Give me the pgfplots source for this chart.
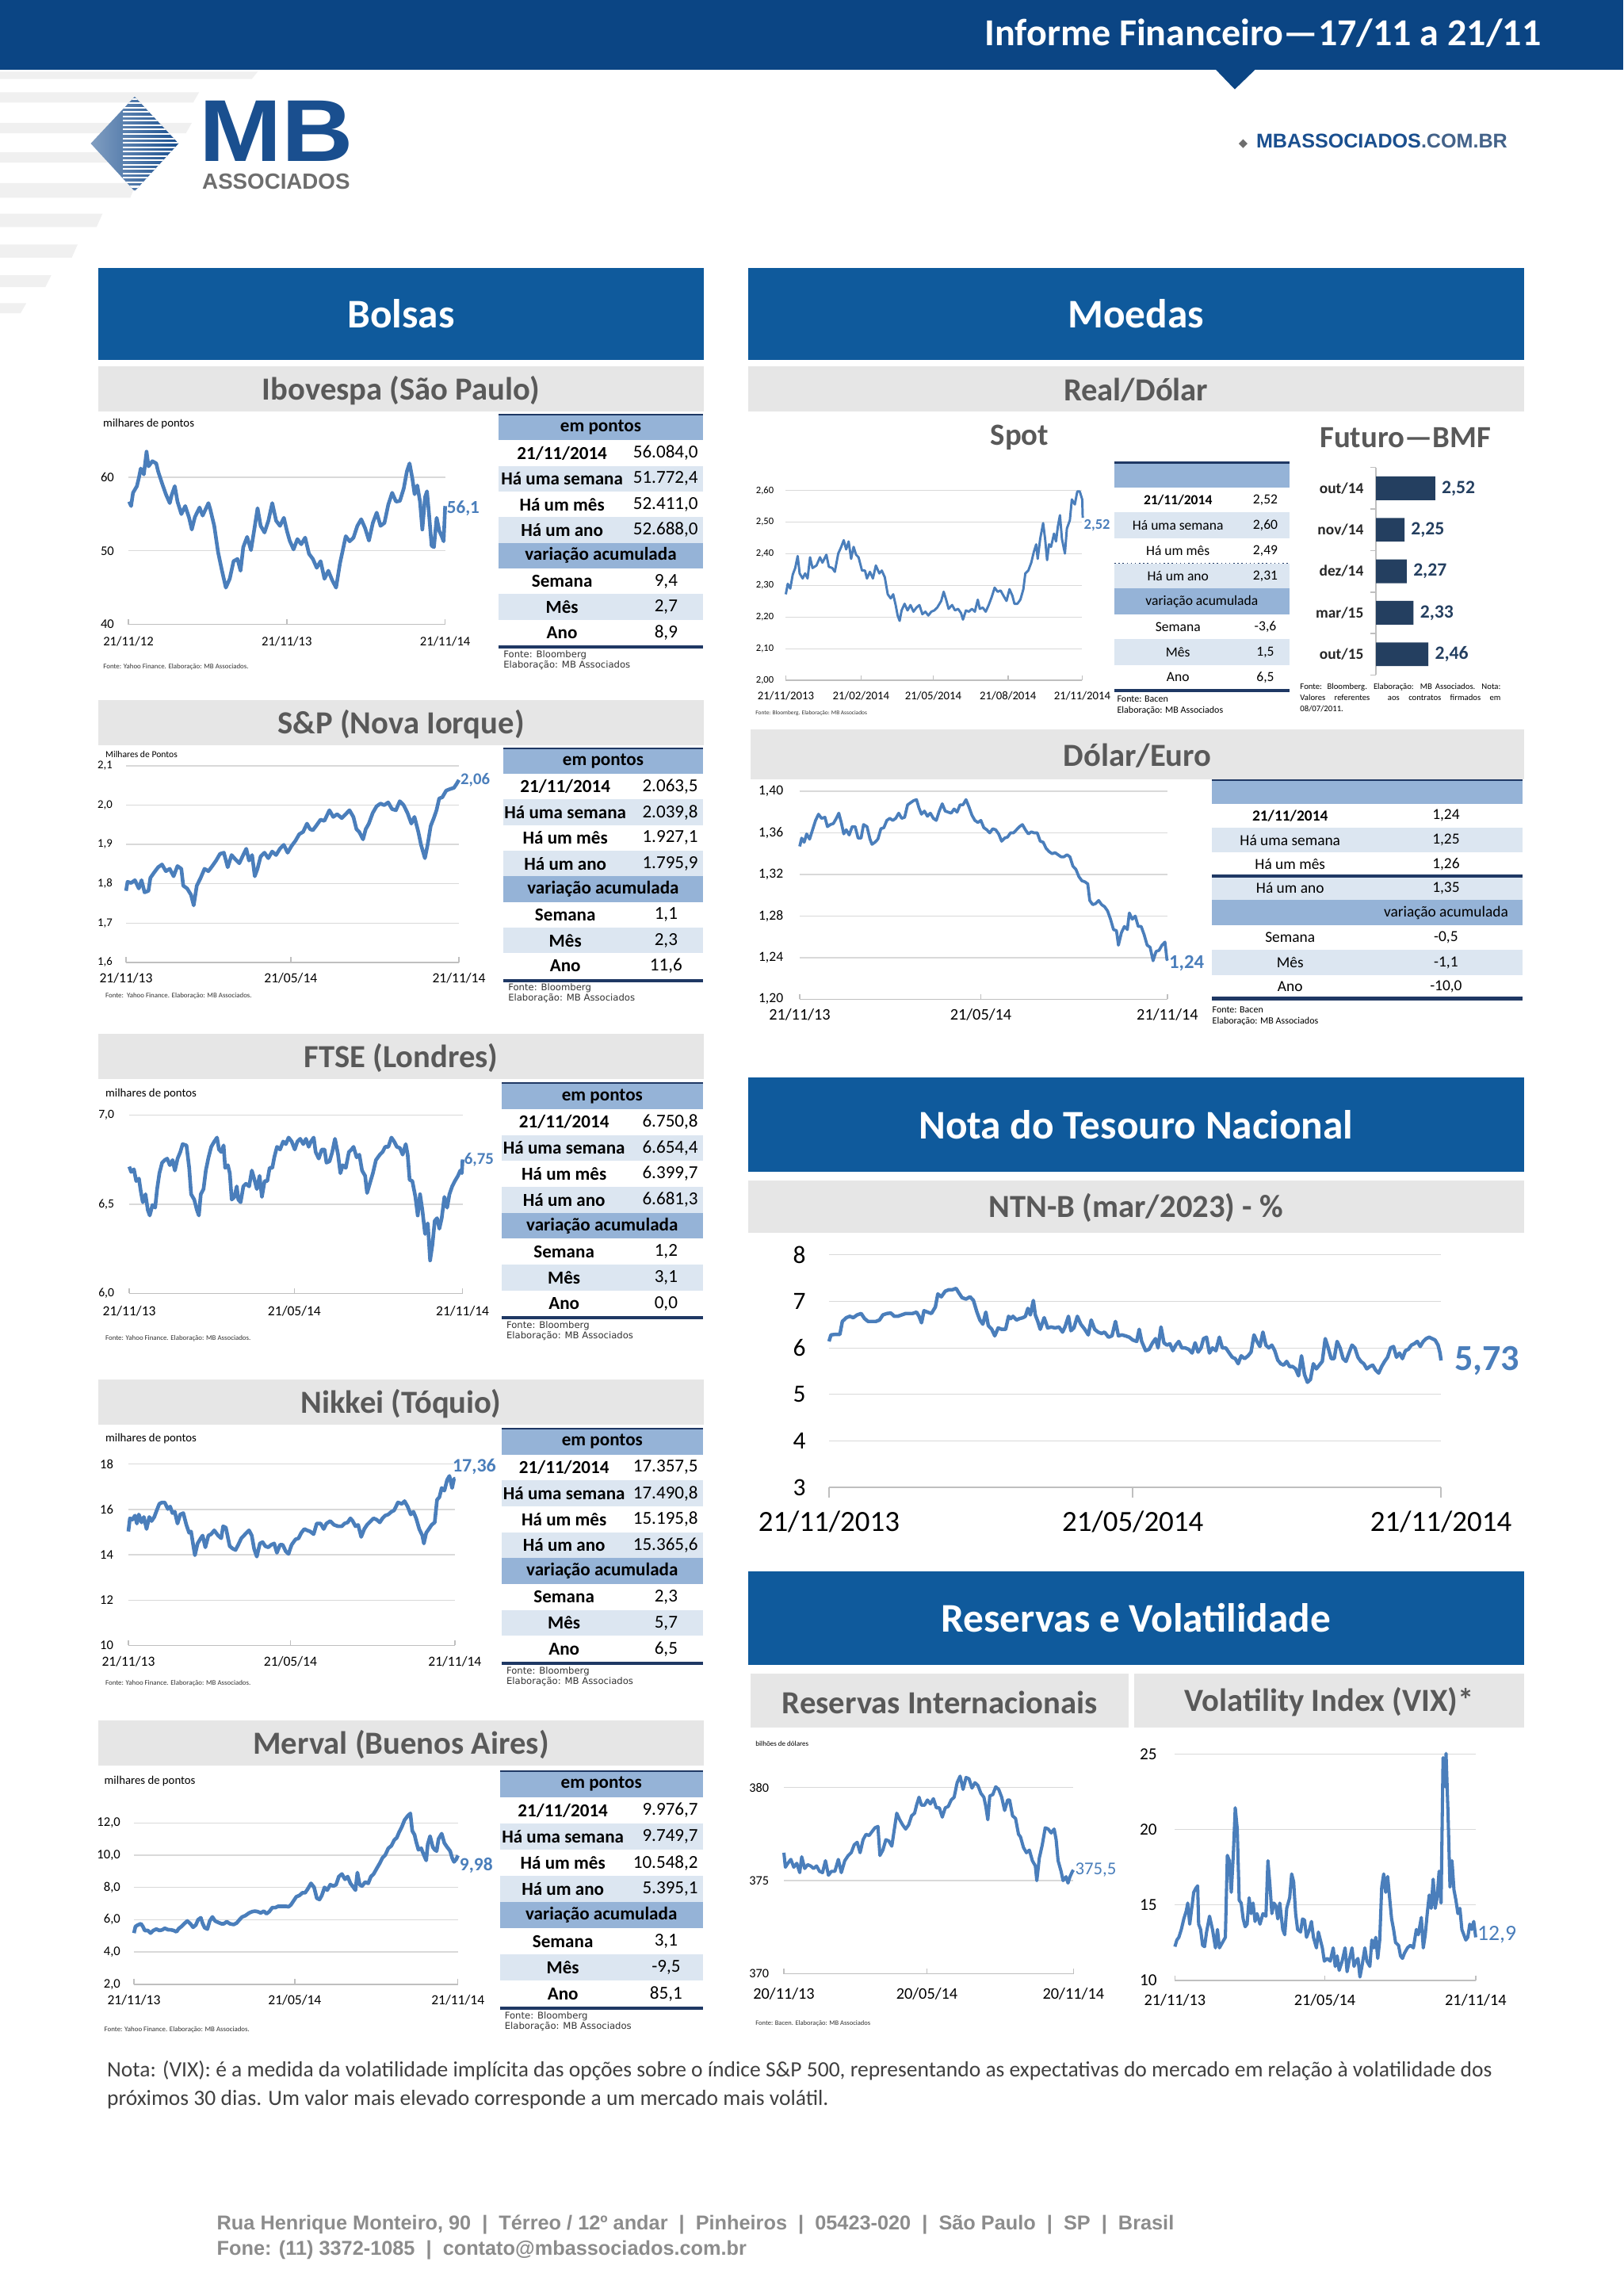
\documentclass[border=0pt]{standalone}
\usepackage{graphicx}
\usepackage{pgfplots}
\pgfplotsset{compat=1.18}
\usepackage{fontspec}
\setmainfont{Carlito}
\newfontfamily\arialf{Liberation Sans}
\newfontfamily\verd{DejaVu Sans}
\newcommand\fs[2]{\fontsize{#1}{#2}\selectfont}
\definecolor{bandblue}{HTML}{0B4584}
\definecolor{secblue}{HTML}{0F5A9C}
\definecolor{grayband}{HTML}{E6E6E6}
\definecolor{graytext}{HTML}{595959}
\definecolor{hdrblue}{HTML}{95B3D7}
\definecolor{rowshade}{HTML}{DCE6F1}
\definecolor{navy}{HTML}{1F3864}
\definecolor{lineblue}{HTML}{4A7EBB}
\definecolor{axisgray}{HTML}{BFBFBF}
\definecolor{gridgray}{HTML}{D9D9D9}
\definecolor{barnavy}{HTML}{243F60}
\definecolor{logoblue}{HTML}{1A4F8F}
\definecolor{logogray}{HTML}{6E6E6E}
\definecolor{foottext}{HTML}{8C8C8C}
\definecolor{notetext}{HTML}{404040}
\definecolor{stripe}{HTML}{F0F0F0}

\pgfplotsset{
 mb/.style={scale only axis, clip=false, axis x line=bottom, axis y line=left,
  x axis line style={draw=axisgray,line width=0.8pt,-}, y axis line style={draw=none},
  xtick style={draw=axisgray,line width=0.8pt}, ytick style={draw=none},
  xtick align=inside, major tick length=3.5pt,
  ymajorgrids, grid style={draw=gridgray,line width=0.7pt},
  anchor=south west},
 sline/.style={line width=#1, color=lineblue, line join=round, mark=none},
}

\newcommand\bluebox[5]{\fill[secblue] (#1,#2) rectangle (#3,#4);
 \node[text=white,font=\bfseries\fs{27.8}{30}] at ({(#1+#3)/2},{(#2+#4)/2}) {#5};}
\newcommand\graybar[5]{\fill[grayband] (#1,#2) rectangle (#3,#4);
 \node[text=graytext,font=\bfseries\fs{22}{24}] at ({(#1+#3)/2},{(#2+#4)/2+1}) {#5};}

\def\rh{17.5}
\newcommand\stocktable[9]{%
\begin{scope}[shift={(#1,#2)}]
\pgfmathsetmacro\tw{480-#1}
\fill[hdrblue] (0,0) rectangle (\tw,\rh);
\fill[rowshade] (0,2*\rh) rectangle (\tw,3*\rh);
\fill[rowshade] (0,4*\rh) rectangle (\tw,5*\rh);
\fill[hdrblue] (0,5*\rh) rectangle (\tw,6*\rh);
\fill[rowshade] (0,7*\rh) rectangle (\tw,8*\rh);
\draw[navy,line width=0.8pt] (0,0) -- (\tw,0);
\draw[navy,line width=2.2pt] (0,9*\rh+1) -- (\tw,9*\rh+1);
\tikzset{tl/.style={font=\bfseries\fs{12.5}{14},inner sep=0},tv/.style={font=\fs{12.5}{14},inner sep=0,anchor=east}}
\node[tl] at (0.5*\tw,0.5*\rh) {em pontos};
\node[tl] at (0.31*\tw,1.5*\rh) {21/11/2014};
\node[tv] at (\tw-3,1.5*\rh) {#3};
\node[tl] at (0.31*\tw,2.5*\rh) {Há uma semana};
\node[tv] at (\tw-3,2.5*\rh) {#4};
\node[tl] at (0.31*\tw,3.5*\rh) {Há um mês};
\node[tv] at (\tw-3,3.5*\rh) {#5};
\node[tl] at (0.31*\tw,4.5*\rh) {Há um ano};
\node[tv] at (\tw-3,4.5*\rh) {#6};
\node[tl] at (0.5*\tw,5.5*\rh) {variação acumulada};
\node[tl] at (0.31*\tw,6.5*\rh) {Semana};
\node[tv,anchor=center] at (\tw-25,6.5*\rh) {#7};
\node[tl] at (0.31*\tw,7.5*\rh) {Mês};
\node[tv,anchor=center] at (\tw-25,7.5*\rh) {#8};
\node[tl] at (0.31*\tw,8.5*\rh) {Ano};
\node[tv,anchor=center] at (\tw-25,8.5*\rh) {#9};
\node[anchor=north west,font=\verd\fs{6.3}{7},align=left,inner sep=0,text=black!80] at (3,9*\rh+3.2) {Fonte: Bloomberg\\Elaboração: MB Associados};
\end{scope}}

\begin{document}
\begin{tikzpicture}
\path[use as bounding box] (0pt,0pt) rectangle (1109pt,-1568pt);
\begin{scope}[x=1pt,y=-1pt]
\fill[white] (0,0) rectangle (1109,1568);
% left decorative stripes
\fill[stripe] (0,49) -- (176,49) -- (172,54) -- (0,54) -- cycle;
\fill[stripe] (0,63) -- (136,63) -- (132,70) -- (0,70) -- cycle;
\fill[stripe] (0,84) -- (131,84) -- (127,91) -- (0,91) -- cycle;
\fill[stripe] (0,104) -- (114,104) -- (110,111) -- (0,111) -- cycle;
\fill[stripe] (0,125) -- (93,125) -- (89,135) -- (0,135) -- cycle;
\fill[stripe] (0,146) -- (70,146) -- (66,155) -- (0,155) -- cycle;
\fill[stripe] (0,167) -- (53,167) -- (49,176) -- (0,176) -- cycle;
\fill[stripe] (0,188) -- (35,188) -- (31,196) -- (0,196) -- cycle;
\fill[stripe] (0,207) -- (18,207) -- (14,214) -- (0,214) -- cycle;
% header band
\fill[bandblue] (0,0) rectangle (1109,47.5);
\fill[bandblue] (830,47) -- (858,47) -- (843.5,61) -- cycle;
\node[anchor=base east,text=white,font=\bfseries\fs{26}{30},inner sep=0] at (1053,31) {Informe Financeiro—17/11 a 21/11};
% logo
\begin{scope}
\clip (62,98) -- (92,66) -- (122,98) -- (92,130.6) -- cycle;
\shade[left color=logoblue!55!white, right color=logoblue] (62,66) rectangle (122,131);
\foreach \yy in {67.5,70.5,...,131} \draw[white,line width=1.1pt] (84,\yy) -- (123,\yy);
\end{scope}
\node[anchor=base west,inner sep=0,text=logoblue,font=\arialf\bfseries\fs{60}{60}] at (136,110) {\scalebox{1.13}[1]{MB}};
\node[anchor=base west,inner sep=0,text=logogray,font=\arialf\bfseries\fs{15}{15}] at (138,129) {ASSOCIADOS};
\node[anchor=base west,inner sep=0,text=logogray,font=\verd\fs{8}{8}] at (846,100.5) {◆};
\node[anchor=base west,inner sep=0,font=\arialf\bfseries\fs{13.6}{14}] at (858,101) {\textcolor{logoblue}{MBASSOCIADOS}\textcolor{logoblue!60!gray}{.COM.BR}};
% section boxes
\bluebox{67}{183}{481}{246}{Bolsas}
\bluebox{511}{183}{1041}{246}{Moedas}
\bluebox{511}{736}{1041}{800}{Nota do Tesouro Nacional}
\bluebox{511}{1073}{1041}{1137}{Reservas e Volatilidade}
% gray bars
\graybar{67}{250}{481}{281}{Ibovespa (São Paulo)}
\graybar{67}{478}{481}{509}{S\&P (Nova Iorque)}
\graybar{67}{706}{481}{737}{FTSE (Londres)}
\graybar{67}{942}{481}{973}{Nikkei (Tóquio)}
\graybar{67}{1175}{481}{1206}{Merval (Buenos Aires)}
\graybar{511}{250}{1041}{281}{Real/Dólar}
\graybar{513}{498}{1041}{532}{Dólar/Euro}
\graybar{511}{806}{1041}{842}{NTN-B (mar/2023) - \%}
\graybar{513}{1143}{771}{1180}{Reservas Internacionais}
\graybar{775}{1143}{1041}{1180}{Volatility Index (VIX)*}
% stock tables
\def\rh{17.5}
\stocktable{340.8}{283.2}{56.084,0}{51.772,4}{52.411,0}{52.688,0}{9,4}{2,7}{8,9}
\stocktable{344}{511}{2.063,5}{2.039,8}{1.927,1}{1.795,9}{1,1}{2,3}{11,6}
\def\rh{17.7}
\stocktable{342.8}{739.7}{6.750,8}{6.654,4}{6.399,7}{6.681,3}{1,2}{3,1}{0,0}
\stocktable{342.8}{975.6}{17.357,5}{17.490,8}{15.195,8}{15.365,6}{2,3}{5,7}{6,5}
\def\rh{17.9}
\stocktable{341.6}{1209.5}{9.976,7}{9.749,7}{10.548,2}{5.395,1}{3,1}{-9,5}{85,1}
% small texts left charts
\tikzset{unit/.style={anchor=west,inner sep=0,font=\fs{8}{9}}, fonte/.style={anchor=west,inner sep=0,font=\fs{4.8}{5.5},text=black!80}}
\node[unit] at (70.3,289.5) {milhares de pontos};
\node[unit,font=\fs{6.3}{7}] at (71.9,515.1) {Milhares de Pontos};
\node[unit] at (71.9,746.7) {milhares de pontos};
\node[unit] at (71.9,982.2) {milhares de pontos};
\node[unit] at (71.1,1216.3) {milhares de pontos};
\node[fonte] at (70.4,455.5) {Fonte: Yahoo Finance. Elaboração: MB Associados.};
\node[fonte] at (71.9,680.3) {Fonte:\ \ Yahoo Finance. Elaboração: MB Associados.};
\node[fonte] at (71.9,913.8) {Fonte: Yahoo Finance. Elaboração: MB Associados.};
\node[fonte] at (71.9,1149.7) {Fonte: Yahoo Finance. Elaboração: MB Associados.};
\node[fonte] at (71.1,1386) {Fonte: Yahoo Finance. Elaboração: MB Associados.};
% Real/Dolar
\node[text=graytext,font=\bfseries\fs{21}{24}] at (696.5,299) {Spot};
\node[text=graytext,font=\bfseries\fs{21}{24}] at (960,299) {Futuro—BMF};
\draw[navy,line width=1.5pt] (761.3,315.9) -- (880.7,315.9);
\fill[hdrblue] (761.3,316.6) rectangle (880.7,332.8);
\fill[rowshade] (761.3,350) rectangle (880.7,367.7);
\fill[rowshade] (761.3,384.8) rectangle (880.7,401.9);
\fill[hdrblue] (761.3,401.9) rectangle (880.7,419.5);
\fill[rowshade] (761.3,436.6) rectangle (880.7,454.3);
\draw[navy,line width=0.8pt,dotted] (761.3,384.8) -- (880.7,384.8);
\draw[navy,line width=2pt] (761.3,471.6) -- (880.7,471.6);
\tikzset{rl/.style={inner sep=0,font=\fs{9.5}{11}}}
\node[rl,font=\bfseries\fs{9.5}{11}] at (804.7,341.4) {21/11/2014}; \node[rl] at (864.4,341.4) {2,52};
\node[rl] at (804.7,358.85) {Há uma semana}; \node[rl] at (864.4,358.85) {2,60};
\node[rl] at (804.7,376.25) {Há um mês}; \node[rl] at (864.4,376.25) {2,49};
\node[rl] at (804.7,393.35) {Há um ano}; \node[rl] at (864.4,393.35) {2,31};
\node[rl] at (821,410.7) {variação acumulada};
\node[rl] at (804.7,428.05) {Semana}; \node[rl] at (864.4,428.05) {-3,6};
\node[rl] at (804.7,445.45) {Mês}; \node[rl] at (864.4,445.45) {1,5};
\node[rl] at (804.7,462.6) {Ano}; \node[rl] at (864.4,462.6) {6,5};
\node[anchor=west,inner sep=0,font=\fs{6.5}{7}] at (763,477.2) {Fonte: Bacen};
\node[anchor=west,inner sep=0,font=\fs{6.5}{7}] at (763,485.3) {Elaboração: MB Associados};
\node[anchor=west,inner sep=0,font=\fs{4}{5},text=black!80] at (516,487) {Fonte: Bloomberg. Elaboração: MB Associados};
\node[anchor=north west,inner sep=0,text width=137pt,align=justify,font=\fs{5.8}{7.5}] at (888,466.5) {Fonte: Bloomberg.\ \ Elaboração:\ \ MB Associados. Nota:\linebreak Valores referentes\ \ aos contratos firmados em\linebreak 08/07/2011.};
% Dolar/Euro table
\draw[navy,line width=1.5pt] (828,532.8) -- (1040,532.8);
\fill[hdrblue] (828,533.2) rectangle (1040,548.9);
\fill[rowshade] (828,565.1) rectangle (1040,582.2);
\fill[rowshade] (828,598.4) rectangle (1040,614.6);
\fill[hdrblue] (828,614.6) rectangle (1040,631.7);
\fill[rowshade] (828,648.9) rectangle (1040,666);
\draw[navy,line width=2pt] (828,598.4) -- (1040,598.4);
\draw[navy,line width=2.5pt] (828,681.8) -- (1040,681.8);
\tikzset{el/.style={inner sep=0,font=\fs{10.5}{12}}}
\node[el,font=\bfseries\fs{10.5}{12}] at (881.3,557) {21/11/2014}; \node[el] at (987.8,557) {1,24};
\node[el] at (881.3,573.65) {Há uma semana}; \node[el] at (987.8,573.65) {1,25};
\node[el] at (881.3,590.3) {Há um mês}; \node[el] at (987.8,590.3) {1,26};
\node[el] at (881.3,606.5) {Há um ano}; \node[el] at (987.8,606.5) {1,35};
\node[el] at (987.8,623.15) {variação acumulada};
\node[el] at (881.3,640.3) {Semana}; \node[el] at (987.8,640.3) {-0,5};
\node[el] at (881.3,657.45) {Mês}; \node[el] at (987.8,657.45) {-1,1};
\node[el] at (881.3,673.7) {Ano}; \node[el] at (987.8,673.7) {-10,0};
\node[anchor=west,inner sep=0,font=\fs{6.5}{7}] at (828,689.7) {Fonte: Bacen};
\node[anchor=west,inner sep=0,font=\fs{6.5}{7}] at (828,697.8) {Elaboração: MB Associados};
% Reservas texts
\node[anchor=west,inner sep=0,font=\fs{4.9}{5.5}] at (516,1190.7) {bilhões de dólares};
\node[anchor=west,inner sep=0,font=\fs{4.6}{5.5},text=black!80] at (516,1381.7) {Fonte: Bacen. Elaboração: MB Associados};
% note and footer
\node[anchor=north west,inner sep=0,align=left,font=\fs{14.9}{19.5},text=notetext] at (73,1407) {Nota: (VIX): é a medida da volatilidade implícita das opções sobre o índice S\&P 500, representando as expectativas do mercado em relação à volatilidade dos\\próximos 30 dias. Um valor mais elevado corresponde a um mercado mais volátil.};
\node[anchor=base west,inner sep=0,font=\arialf\bfseries\fs{13.7}{15},text=foottext] at (148,1523) {Rua Henrique Monteiro, 90 \ |\ \ Térreo / 12º andar \ |\ \ Pinheiros \ |\ \ 05423-020 \ |\ \ São Paulo \ |\ \ SP \ |\ \ Brasil};
\node[anchor=base west,inner sep=0,font=\arialf\bfseries\fs{13.7}{15},text=foottext] at (148,1540) {Fone: (11) 3372-1085 \ |\ \ contato@mbassociados.com.br};
\end{scope}

% ===== Ibovespa
\begin{axis}[mb, at={(87.7pt,-426.4pt)}, width=216.4pt, height=125.5pt,
 xmin=78,xmax=897, ymin=40,ymax=65,
 xtick={78,487.5,897}, xticklabels={21/11/12,21/11/13,21/11/14},
 ytick={40,50,60}, yticklabels={40,50,60},
 tick label style={font=\fs{9}{10}}, xticklabel style={yshift=-5pt}, yticklabel style={xshift=-4.5pt}]
\addplot[sline=2.5pt] coordinates {(80,56.7)(85,56.1)(90,57.9)(100,58.8)(105,59.9)(110,61.2)(118,60.4)(125,63.5)(130,61.5)(140,62.2)(150,61.9)(155,60.8)(165,59.2)(175,57.7)(185,56.5)(190,57.6)(198,58.8)(205,56.7)(215,55.0)(225,56.1)(235,54.5)(242,52.9)(250,54.6)(262,55.9)(270,54.8)(285,56.5)(290,55.6)(300,53.4)(310,49.8)(320,47.3)(330,45.0)(340,46.2)(350,48.6)(360,48.9)(368,47.3)(375,50.5)(385,51.9)(395,50.1)(405,53.4)(412,55.8)(420,53.4)(430,52.5)(440,54.1)(450,56.5)(460,54.1)(470,53.4)(480,54.5)(488,52.7)(495,51.4)(505,50.2)(515,51.6)(525,50.9)(535,51.8)(545,49.6)(555,48.9)(565,47.7)(575,48.6)(585,46.2)(595,47.3)(605,46.0)(615,45.0)(625,48.3)(632,50.0)(640,52.0)(650,51.3)(660,51.8)(670,53.4)(680,54.3)(690,53.1)(700,51.4)(710,53.8)(720,55.2)(730,53.4)(740,53.8)(750,56.3)(760,57.9)(770,56.7)(780,56.8)(790,58.5)(798,60.8)(805,61.9)(812,59.9)(818,57.7)(825,58.9)(832,56.7)(838,52.9)(845,57.3)(850,58.1)(855,55.2)(862,50.7)(868,50.5)(875,54.5)(882,52.7)(888,52.0)(893,51.3)(897,56.1)};
\node[anchor=west,font=\bfseries\fs{12.5}{14},text=lineblue,inner sep=1pt] at (axis cs:897,55.8) {56,1};
\end{axis}

% ===== S&P
\begin{axis}[mb, at={(86.1pt,-657.2pt)}, width=227.4pt, height=134.2pt,
 xmin=72,xmax=933, ymin=1.6,ymax=2.1,
 xtick={72,498,933}, xticklabels={21/11/13,21/05/14,21/11/14},
 ytick={1.6,1.7,1.8,1.9,2.0,2.1}, yticklabels={{1,6},{1,7},{1,8},{1,9},{2,0},{2,1}},
 xticklabel style={font=\fs{9.5}{10},yshift=-4pt}, yticklabel style={font=\fs{8}{9},xshift=-4pt}]
\addplot[sline=2.5pt] coordinates {(72,1.782)(76,1.805)(85,1.802)(95,1.809)(105,1.788)(112,1.809)(120,1.778)(130,1.782)(135,1.815)(145,1.829)(155,1.842)(165,1.849)(175,1.832)(185,1.838)(195,1.819)(205,1.845)(215,1.838)(220,1.795)(230,1.788)(240,1.772)(247,1.745)(255,1.795)(265,1.815)(275,1.838)(285,1.832)(295,1.845)(305,1.859)(315,1.876)(325,1.879)(335,1.842)(345,1.873)(355,1.862)(365,1.852)(375,1.873)(383,1.889)(390,1.859)(398,1.873)(405,1.819)(412,1.838)(420,1.869)(430,1.879)(440,1.865)(450,1.882)(460,1.873)(470,1.889)(480,1.899)(490,1.879)(500,1.896)(510,1.909)(520,1.926)(530,1.932)(540,1.953)(548,1.939)(555,1.936)(565,1.949)(575,1.963)(585,1.960)(598,1.987)(608,1.970)(618,1.977)(630,1.967)(640,1.977)(650,1.987)(660,1.970)(668,1.939)(675,1.932)(685,1.913)(692,1.939)(700,1.953)(710,1.980)(720,1.997)(730,2.004)(740,2.000)(750,2.007)(760,1.990)(770,1.987)(780,2.010)(790,2.000)(800,1.980)(810,1.953)(818,1.970)(828,1.932)(835,1.899)(845,1.865)(852,1.899)(860,1.947)(868,1.967)(875,1.987)(882,2.017)(890,2.020)(900,2.037)(910,2.041)(920,2.044)(927,2.054)(933,2.064)};
\node[anchor=west,font=\bfseries\fs{11.2}{13},text=lineblue,inner sep=1pt] at (axis cs:933,2.064) {2,06};
\end{axis}

% ===== FTSE
\begin{axis}[mb, at={(88.3pt,-883.3pt)}, width=227.7pt, height=121.8pt,
 xmin=80,xmax=942, ymin=6.0,ymax=7.0,
 xtick={80,507,942}, xticklabels={21/11/13,21/05/14,21/11/14},
 ytick={6.0,6.5,7.0}, yticklabels={{6,0},{6,5},{7,0}},
 xticklabel style={font=\fs{9.5}{10},yshift=-5pt}, yticklabel style={font=\fs{8.5}{9},xshift=-5pt}]
\addplot[sline=2.5pt] coordinates {(80,6.711)(85,6.681)(92,6.696)(98,6.630)(105,6.644)(110,6.570)(115,6.511)(122,6.556)(128,6.467)(133,6.437)(140,6.496)(147,6.481)(152,6.585)(158,6.674)(165,6.733)(172,6.748)(178,6.756)(185,6.719)(192,6.748)(198,6.689)(205,6.756)(212,6.793)(218,6.837)(228,6.830)(235,6.704)(240,6.556)(248,6.526)(255,6.467)(260,6.437)(265,6.556)(272,6.585)(278,6.689)(285,6.763)(292,6.822)(300,6.852)(307,6.874)(312,6.807)(318,6.793)(324,6.830)(328,6.704)(335,6.719)(340,6.674)(345,6.526)(352,6.541)(358,6.600)(362,6.526)(368,6.511)(375,6.600)(382,6.615)(390,6.600)(397,6.689)(403,6.644)(410,6.585)(417,6.659)(423,6.541)(430,6.630)(437,6.630)(443,6.704)(450,6.704)(455,6.763)(462,6.822)(470,6.807)(478,6.852)(485,6.837)(492,6.874)(500,6.852)(508,6.807)(515,6.852)(522,6.867)(530,6.837)(537,6.867)(544,6.822)(550,6.852)(557,6.874)(562,6.793)(570,6.756)(578,6.807)(585,6.807)(590,6.733)(598,6.741)(605,6.793)(612,6.867)(620,6.778)(626,6.674)(632,6.719)(640,6.704)(648,6.793)(655,6.807)(660,6.822)(668,6.763)(675,6.778)(682,6.689)(690,6.659)(695,6.563)(702,6.615)(710,6.674)(718,6.748)(728,6.778)(735,6.793)(742,6.822)(750,6.822)(758,6.874)(765,6.852)(772,6.822)(780,6.815)(787,6.778)(795,6.837)(800,6.778)(805,6.637)(812,6.630)(820,6.541)(826,6.437)(832,6.556)(838,6.467)(845,6.333)(852,6.393)(858,6.185)(864,6.274)(870,6.407)(876,6.422)(882,6.363)(888,6.422)(895,6.541)(902,6.481)(908,6.556)(915,6.600)(922,6.630)(930,6.659)(936,6.689)(940,6.674)(942,6.751)};
\node[anchor=west,font=\bfseries\fs{11.3}{13},text=lineblue,inner sep=1pt] at (axis cs:942,6.751) {6,75};
\end{axis}

% ===== Nikkei
\begin{axis}[mb, at={(87.7pt,-1123.7pt)}, width=223pt, height=123.8pt,
 xmin=78,xmax=922, ymin=10,ymax=18,
 xtick={78,497,922}, xticklabels={21/11/13,21/05/14,21/11/14},
 ytick={10,12,14,16,18}, yticklabels={10,12,14,16,18},
 xticklabel style={font=\fs{9.5}{10},yshift=-4pt}, yticklabel style={font=\fs{9}{10},xshift=-5pt}]
\addplot[sline=2.5pt] coordinates {(78,15.03)(82,15.61)(88,15.55)(95,15.73)(100,15.38)(105,15.78)(112,15.43)(118,15.67)(125,15.14)(132,15.67)(138,15.49)(145,15.67)(150,15.90)(158,16.25)(165,16.31)(172,16.31)(180,16.02)(186,16.13)(192,15.84)(198,15.90)(205,15.38)(212,15.78)(220,15.84)(228,15.32)(235,14.97)(240,15.03)(245,14.50)(250,13.98)(257,14.50)(265,14.73)(270,14.85)(277,14.33)(285,14.85)(292,14.91)(300,15.08)(310,14.85)(318,14.73)(323,15.26)(330,15.20)(335,14.79)(340,14.38)(348,14.27)(355,14.21)(362,14.44)(370,14.73)(380,14.91)(390,15.08)(397,14.85)(403,14.27)(410,13.92)(418,14.50)(425,14.56)(432,14.38)(440,14.33)(447,14.44)(455,14.50)(462,14.09)(470,14.44)(477,14.44)(485,14.15)(492,14.04)(500,14.44)(510,14.68)(518,14.73)(525,14.97)(533,15.14)(540,15.08)(548,15.03)(557,14.91)(565,15.38)(575,15.38)(583,15.14)(590,15.38)(600,15.49)(610,15.32)(620,15.26)(630,15.26)(637,15.38)(645,15.43)(652,15.61)(658,15.49)(665,15.26)(672,15.32)(680,14.79)(688,15.14)(695,15.32)(705,15.49)(712,15.61)(720,15.55)(728,15.43)(735,15.61)(742,15.73)(750,15.78)(758,15.90)(765,15.96)(775,16.31)(785,16.25)(792,16.37)(800,16.13)(808,15.78)(815,15.90)(822,15.61)(830,15.14)(838,14.85)(842,14.50)(848,14.97)(855,15.14)(862,15.32)(870,15.43)(876,16.43)(882,16.54)(888,16.95)(895,16.83)(902,17.30)(908,17.48)(915,16.95)(920,17.36)(923,17.36)};
\node[anchor=west,font=\bfseries\fs{13}{15},text=lineblue,inner sep=1pt] at ([xshift=-3pt,yshift=8pt]axis cs:923,17.36) {17,36};
\end{axis}

% ===== Merval
\begin{axis}[mb, at={(91.5pt,-1355.1pt)}, width=221.3pt, height=121.3pt,
 xmin=92,xmax=930, ymin=2,ymax=13,
 xtick={92,508,930}, xticklabels={21/11/13,21/05/14,21/11/14},
 ytick={2,4,6,8,10,12}, yticklabels={{2,0},{4,0},{6,0},{8,0},{10,0},{12,0}},
 xticklabel style={font=\fs{9.5}{10},yshift=-4pt}, yticklabel style={font=\fs{9}{10},xshift=-4pt}]
\addplot[sline=2.5pt] coordinates {(92,5.17)(96,5.58)(102,5.67)(110,5.75)(115,5.58)(120,5.33)(128,5.33)(135,5.17)(142,5.33)(150,5.42)(158,5.33)(165,5.37)(172,5.47)(180,5.38)(188,5.37)(195,5.33)(202,5.25)(208,5.45)(215,5.58)(222,5.75)(230,5.92)(238,5.75)(245,5.53)(252,5.67)(258,6.00)(265,6.12)(270,5.75)(275,5.50)(282,5.42)(288,5.92)(295,6.17)(302,5.92)(310,5.83)(318,5.75)(325,5.75)(332,5.88)(340,5.75)(350,5.70)(358,5.80)(365,6.00)(372,6.17)(380,6.25)(390,6.42)(398,6.50)(405,6.53)(412,6.50)(420,6.42)(428,6.53)(435,6.37)(442,6.50)(450,6.75)(458,6.75)(465,6.83)(475,6.83)(485,6.83)(492,6.80)(498,6.92)(505,7.17)(512,7.42)(520,7.50)(528,7.67)(535,7.67)(542,7.92)(550,8.25)(558,8.00)(565,7.33)(572,7.25)(578,7.50)(585,8.00)(592,7.83)(600,8.17)(608,8.08)(615,8.17)(622,8.67)(630,8.83)(638,8.50)(645,8.67)(652,8.25)(660,8.00)(665,7.83)(670,8.92)(676,8.17)(682,8.08)(690,8.33)(698,8.25)(705,8.67)(712,8.83)(720,9.17)(728,9.50)(735,9.83)(742,10.00)(750,10.42)(758,10.58)(765,10.92)(772,11.08)(778,11.42)(785,11.75)(792,12.17)(800,12.42)(807,12.58)(812,11.50)(818,11.25)(822,10.83)(828,10.33)(835,10.42)(842,10.00)(848,9.67)(852,10.67)(858,11.17)(865,10.50)(870,10.33)(875,10.25)(880,11.00)(888,11.33)(895,10.75)(902,10.50)(910,10.25)(915,9.83)(920,9.58)(926,9.75)(930,9.98)};
\node[anchor=west,font=\bfseries\fs{12.7}{14},text=lineblue,inner sep=1pt] at ([yshift=-7pt]axis cs:930,9.98) {9,98};
\end{axis}

% ===== Spot
\begin{axis}[mb, at={(536.8pt,-464.6pt)}, width=202.5pt, height=129.6pt,
 xmin=76,xmax=675, ymin=2.0,ymax=2.6,
 xtick={76,228,374,525,675}, xticklabels={21/11/2013,21/02/2014,21/05/2014,21/08/2014,21/11/2014},
 ytick={2.0,2.1,2.2,2.3,2.4,2.5,2.6}, yticklabels={{2,00},{2,10},{2,20},{2,30},{2,40},{2,50},{2,60}},
 xticklabel style={font=\fs{8}{9},yshift=-4pt}, yticklabel style={font=\fs{6.8}{8},xshift=-3pt}]
\addplot[sline=1.6pt] coordinates {(76,2.272)(80,2.305)(85,2.290)(90,2.334)(95,2.355)(100,2.393)(104,2.338)(110,2.322)(115,2.338)(120,2.322)(125,2.389)(130,2.355)(138,2.363)(145,2.389)(150,2.372)(158,2.397)(163,2.359)(170,2.355)(175,2.343)(182,2.401)(188,2.422)(193,2.443)(198,2.414)(203,2.439)(208,2.384)(213,2.422)(218,2.397)(223,2.389)(230,2.347)(236,2.347)(240,2.322)(246,2.343)(252,2.322)(258,2.363)(265,2.338)(270,2.347)(276,2.326)(282,2.272)(288,2.259)(293,2.272)(298,2.238)(302,2.205)(306,2.188)(310,2.221)(316,2.242)(322,2.221)(328,2.238)(334,2.217)(340,2.230)(346,2.238)(352,2.209)(358,2.217)(364,2.205)(370,2.217)(376,2.221)(382,2.230)(390,2.251)(395,2.280)(400,2.255)(405,2.226)(412,2.238)(418,2.221)(424,2.226)(430,2.213)(434,2.192)(440,2.221)(446,2.217)(452,2.226)(458,2.217)(464,2.255)(468,2.226)(474,2.230)(480,2.217)(486,2.238)(492,2.263)(498,2.293)(504,2.280)(510,2.284)(516,2.267)(522,2.251)(528,2.288)(534,2.267)(538,2.242)(544,2.242)(550,2.255)(556,2.288)(560,2.338)(566,2.347)(572,2.372)(577,2.405)(582,2.430)(585,2.384)(590,2.447)(596,2.497)(600,2.447)(604,2.380)(608,2.430)(612,2.422)(618,2.464)(622,2.439)(626,2.489)(630,2.522)(634,2.447)(640,2.401)(644,2.480)(650,2.506)(654,2.572)(660,2.556)(665,2.597)(670,2.597)(675,2.572)(676,2.514)};
\node[anchor=west,font=\bfseries\fs{10}{12},text=lineblue,inner sep=1pt] at ([yshift=-5pt]axis cs:675,2.514) {2,52};
\end{axis}

% ===== Futuro BMF
\begin{axis}[at={(940pt,-461pt)}, anchor=south west, scale only axis, width=101pt, height=141.7pt,
 xmin=2, xmax=3.3, ymin=-0.5, ymax=4.5, y dir=reverse,
 axis x line=none, axis y line=left, y axis line style={draw=axisgray,line width=0.8pt,-},
 ytick={0,1,2,3,4}, yticklabels={out/14,nov/14,dez/14,mar/15,out/15},
 major tick length=0pt, minor ytick={-0.5,0.5,1.5,2.5,3.5,4.5}, minor tick length=4pt,
 ytick style={draw=axisgray,line width=0.8pt}, ytick align=outside,
 yticklabel style={font=\bfseries\fs{10.5}{12},text=black!85,xshift=-5pt},
 xbar, bar width=16.2pt,
 point meta=x,
 nodes near coords={\pgfmathprintnumber[fixed,fixed zerofill,precision=2,use comma,assume math mode=true]{\pgfplotspointmeta}},
 every node near coord/.append style={font=\bfseries\fs{12.8}{14},text=barnavy,xshift=1pt}]
\addplot[fill=barnavy,draw=none] coordinates {(2.52,0)(2.25,1)(2.27,2)(2.33,3)(2.46,4)};
\end{axis}

% ===== Dolar/Euro
\begin{axis}[mb, at={(546.3pt,-682.4pt)}, width=251.2pt, height=142pt,
 xmin=104,xmax=847, ymin=1.20,ymax=1.40,
 xtick={104,470,847}, xticklabels={21/11/13,21/05/14,21/11/14},
 ytick={1.20,1.24,1.28,1.32,1.36,1.40}, yticklabels={{1,20},{1,24},{1,28},{1,32},{1,36},{1,40}},
 xticklabel style={font=\fs{11}{12},yshift=-3pt}, yticklabel style={font=\fs{9.5}{11},xshift=-6pt}]
\addplot[sline=2pt] coordinates {(104,1.347)(108,1.355)(113,1.351)(118,1.359)(124,1.354)(130,1.363)(136,1.372)(142,1.378)(148,1.374)(155,1.375)(160,1.366)(166,1.368)(172,1.369)(178,1.374)(183,1.379)(188,1.370)(193,1.359)(198,1.363)(204,1.358)(210,1.366)(216,1.366)(222,1.355)(228,1.355)(233,1.368)(240,1.366)(246,1.354)(250,1.349)(256,1.351)(262,1.354)(268,1.364)(274,1.365)(280,1.372)(286,1.374)(292,1.372)(298,1.374)(304,1.379)(310,1.374)(316,1.375)(322,1.387)(328,1.389)(334,1.391)(340,1.392)(345,1.384)(350,1.378)(356,1.381)(362,1.376)(368,1.379)(374,1.374)(380,1.372)(386,1.381)(392,1.388)(398,1.381)(404,1.380)(410,1.379)(416,1.383)(422,1.380)(428,1.387)(434,1.387)(440,1.392)(446,1.385)(452,1.377)(458,1.372)(464,1.370)(470,1.372)(476,1.365)(482,1.363)(488,1.360)(494,1.364)(500,1.363)(506,1.359)(512,1.352)(518,1.355)(524,1.356)(530,1.360)(536,1.360)(542,1.363)(548,1.366)(554,1.368)(560,1.363)(566,1.359)(572,1.361)(578,1.360)(584,1.360)(590,1.352)(596,1.351)(602,1.345)(608,1.342)(614,1.340)(620,1.341)(626,1.339)(632,1.337)(638,1.337)(644,1.339)(650,1.337)(656,1.328)(662,1.325)(668,1.318)(674,1.314)(680,1.313)(686,1.311)(690,1.295)(696,1.291)(702,1.292)(708,1.295)(714,1.291)(720,1.289)(726,1.285)(732,1.277)(738,1.267)(744,1.266)(748,1.252)(754,1.264)(760,1.270)(766,1.267)(770,1.283)(776,1.277)(782,1.280)(788,1.270)(794,1.270)(800,1.262)(806,1.252)(812,1.250)(818,1.237)(824,1.246)(830,1.247)(836,1.252)(842,1.255)(846,1.238)(847,1.239)};
\node[anchor=west,font=\bfseries\fs{13.4}{15},text=lineblue,inner sep=1pt] at ([yshift=-3pt]axis cs:847,1.239) {1,24};
\end{axis}

% ===== NTN-B
\begin{axis}[mb, at={(566.3pt,-1015.8pt)}, width=418.1pt, height=158.8pt,
 xmin=163,xmax=1400, ymin=3,ymax=8,
 xtick={163,777,1400}, xticklabels={21/11/2013,21/05/2014,21/11/2014},
 ytick={3,4,5,6,7,8}, yticklabels={3,4,5,6,7,8},
 xtick align=outside, major tick length=6.7pt,
 xticklabel style={font=\fs{20}{22},yshift=-6pt}, yticklabel style={font=\fs{17}{19},xshift=-9pt}]
\addplot[sline=2.4pt] coordinates {(163,6.14)(167,6.28)(175,6.29)(185,6.29)(190,6.57)(198,6.65)(205,6.68)(212,6.65)(220,6.71)(228,6.74)(235,6.63)(242,6.57)(250,6.57)(258,6.57)(265,6.60)(272,6.71)(280,6.74)(288,6.75)(295,6.68)(302,6.68)(310,6.71)(318,6.74)(325,6.74)(332,6.74)(340,6.77)(345,6.68)(350,6.54)(355,6.80)(362,6.77)(370,6.74)(378,6.88)(383,7.16)(390,7.10)(398,7.22)(405,7.25)(412,7.25)(420,7.28)(425,7.19)(432,7.08)(440,7.05)(448,7.10)(455,7.02)(462,6.77)(468,6.60)(474,6.51)(480,6.77)(485,6.48)(492,6.40)(498,6.26)(505,6.43)(512,6.40)(520,6.40)(526,6.68)(530,6.63)(535,6.68)(542,6.60)(548,6.63)(555,6.65)(560,6.68)(565,6.85)(570,6.71)(576,7.02)(580,6.71)(585,6.57)(590,6.40)(598,6.65)(605,6.43)(612,6.45)(620,6.43)(628,6.45)(635,6.34)(640,6.45)(647,6.68)(652,6.37)(658,6.43)(665,6.68)(672,6.51)(680,6.40)(687,6.28)(693,6.60)(700,6.40)(707,6.34)(714,6.31)(720,6.34)(728,6.23)(735,6.26)(742,6.57)(748,6.26)(755,6.28)(762,6.26)(770,6.23)(777,6.17)(785,6.14)(790,6.40)(795,6.14)(803,5.94)(810,5.97)(817,6.11)(823,6.20)(828,6.00)(834,6.45)(840,6.11)(846,6.06)(852,6.09)(858,5.94)(864,6.06)(870,6.14)(876,6.00)(883,6.00)(890,5.97)(897,5.89)(903,6.11)(909,5.91)(915,6.00)(920,6.20)(926,6.23)(932,5.89)(938,6.00)(945,5.94)(952,6.23)(958,6.00)(965,6.00)(972,5.89)(978,5.80)(984,5.77)(990,5.66)(996,5.83)(1003,5.77)(1010,5.83)(1016,5.91)(1022,6.28)(1028,6.14)(1034,6.03)(1040,6.34)(1046,6.06)(1052,6.00)(1058,6.06)(1064,5.94)(1070,5.74)(1076,5.66)(1082,5.63)(1088,5.71)(1094,5.60)(1100,5.60)(1106,5.55)(1112,5.40)(1118,5.83)(1124,5.43)(1130,5.26)(1136,5.32)(1142,5.66)(1148,5.55)(1154,5.63)(1160,5.71)(1166,6.20)(1172,6.00)(1178,5.77)(1184,5.77)(1190,6.14)(1196,6.00)(1202,5.77)(1208,5.71)(1214,5.89)(1220,6.06)(1226,6.00)(1232,5.80)(1238,5.71)(1244,5.66)(1250,5.55)(1256,5.60)(1262,5.63)(1268,5.52)(1274,5.46)(1280,5.60)(1286,5.71)(1292,5.80)(1298,6.00)(1304,6.03)(1310,5.80)(1316,5.89)(1322,5.77)(1328,5.94)(1334,5.97)(1340,6.06)(1346,6.09)(1352,6.14)(1358,6.03)(1364,6.14)(1370,6.20)(1376,6.23)(1382,6.20)(1388,6.17)(1394,6.06)(1398,5.89)(1400,5.73)};
\node[anchor=west,font=\bfseries\fs{25}{28},text=lineblue,inner sep=1pt] at ([xshift=8pt]axis cs:1400,5.73) {5,73};
\end{axis}

% ===== Reservas
\begin{axis}[mb, at={(535.5pt,-1347.9pt)}, width=197.8pt, height=152.6pt,
 xmin=72,xmax=657, ymin=370,ymax=382,
 xtick={72,361,657}, xticklabels={20/11/13,20/05/14,20/11/14},
 ytick={370,375,380}, yticklabels={370,375,380},
 xticklabel style={font=\fs{11}{12},yshift=-6pt}, yticklabel style={font=\fs{8.8}{10},xshift=-5pt}]
\addplot[sline=2.2pt] coordinates {(72,376.50)(75,375.72)(80,375.93)(86,376.14)(92,375.72)(98,375.93)(104,375.43)(108,376.28)(114,375.65)(120,375.86)(126,375.79)(132,375.65)(138,375.79)(144,375.50)(150,375.43)(156,376.07)(162,375.29)(168,375.50)(175,375.50)(182,376.14)(188,375.43)(195,376.07)(202,376.35)(208,376.50)(214,376.92)(220,377.06)(226,376.50)(232,377.20)(238,377.49)(244,377.42)(250,377.63)(256,377.84)(262,377.91)(266,376.35)(272,376.64)(278,377.20)(284,377.13)(290,376.85)(296,377.91)(300,378.62)(306,378.27)(312,377.99)(318,377.77)(324,377.99)(330,378.48)(336,378.62)(340,379.05)(345,379.48)(350,379.05)(356,379.05)(362,379.33)(368,379.12)(374,379.40)(380,378.91)(386,378.91)(392,378.41)(398,378.91)(404,378.98)(410,379.33)(416,379.48)(422,380.26)(428,380.61)(434,379.90)(440,380.54)(446,380.47)(452,379.97)(458,380.26)(464,380.11)(470,379.69)(476,379.48)(480,378.98)(484,378.27)(488,379.55)(494,379.62)(500,380.04)(506,379.90)(512,379.48)(518,378.77)(524,379.33)(528,379.33)(534,378.48)(540,378.34)(546,377.49)(550,377.35)(556,376.78)(562,376.50)(568,376.64)(574,376.07)(580,375.79)(583,375.00)(588,376.21)(594,376.92)(600,377.84)(606,377.77)(612,377.56)(618,377.77)(622,377.20)(626,376.07)(632,375.50)(636,375.00)(642,375.21)(646,374.87)(650,375.21)(655,375.50)(657,375.57)};
\node[anchor=west,font=\fs{12.3}{14},text=lineblue,inner sep=1pt] at (axis cs:657,375.57) {375,5};
\end{axis}

% ===== VIX
\begin{axis}[mb, at={(802.6pt,-1352.5pt)}, width=205.5pt, height=154.6pt,
 xmin=862,xmax=1470, ymin=10,ymax=25,
 xtick={862,1165,1470}, xticklabels={21/11/13,21/05/14,21/11/14},
 ytick={10,15,20,25}, yticklabels={10,15,20,25},
 xticklabel style={font=\fs{11}{12},yshift=-6pt}, yticklabel style={font=\fs{11.5}{13},xshift=-7pt}]
\addplot[sline=2.2pt] coordinates {(862,12.24)(866,12.68)(870,12.86)(875,13.38)(880,14.08)(885,14.61)(888,15.13)(892,13.73)(896,14.78)(900,15.84)(904,16.10)(908,16.27)(910,13.73)(914,13.38)(918,12.33)(922,12.24)(926,13.21)(932,14.26)(938,13.38)(944,12.16)(948,13.38)(952,12.16)(958,12.51)(964,12.86)(968,18.29)(972,17.94)(976,15.84)(980,18.29)(984,21.44)(988,20.04)(992,15.31)(996,15.13)(1000,14.08)(1004,13.56)(1008,13.73)(1012,15.48)(1016,14.43)(1020,15.13)(1024,13.91)(1028,14.43)(1034,13.73)(1040,14.43)(1046,14.26)(1050,17.94)(1054,16.36)(1058,14.43)(1062,15.13)(1066,14.96)(1070,14.08)(1074,15.13)(1080,13.38)(1084,13.03)(1088,14.78)(1094,15.48)(1098,17.06)(1102,16.54)(1106,14.43)(1110,13.38)(1116,13.21)(1120,14.08)(1124,14.00)(1128,12.86)(1134,13.38)(1138,13.91)(1142,12.86)(1148,12.16)(1152,13.21)(1156,12.68)(1160,12.16)(1164,11.28)(1170,11.46)(1176,11.28)(1182,12.16)(1186,10.93)(1190,11.63)(1194,10.67)(1200,11.28)(1206,12.16)(1210,10.58)(1214,11.28)(1220,12.16)(1224,10.93)(1228,11.28)(1232,11.46)(1236,10.23)(1240,10.93)(1246,12.16)(1250,11.28)(1256,10.93)(1260,12.68)(1264,12.16)(1268,12.86)(1272,11.46)(1276,12.68)(1280,16.19)(1284,17.06)(1288,15.84)(1292,16.89)(1296,15.48)(1300,14.08)(1304,13.38)(1308,12.51)(1314,12.33)(1318,11.63)(1322,11.46)(1326,11.81)(1332,12.16)(1338,12.33)(1344,12.16)(1350,13.38)(1354,13.03)(1360,14.17)(1364,12.16)(1368,13.03)(1372,14.43)(1376,15.66)(1380,14.78)(1384,16.71)(1388,14.78)(1392,15.48)(1396,17.24)(1400,15.13)(1404,24.77)(1408,22.84)(1410,25.04)(1414,21.09)(1418,16.19)(1422,17.94)(1426,16.01)(1430,15.31)(1434,14.43)(1438,14.78)(1442,13.38)(1446,13.03)(1450,12.68)(1454,12.86)(1458,13.73)(1462,13.38)(1466,13.91)(1470,12.86)};
\node[anchor=west,font=\fs{15}{17},text=lineblue,inner sep=1pt] at ([yshift=2pt]axis cs:1470,12.86) {12,9};
\end{axis}
\end{tikzpicture}
\end{document}
